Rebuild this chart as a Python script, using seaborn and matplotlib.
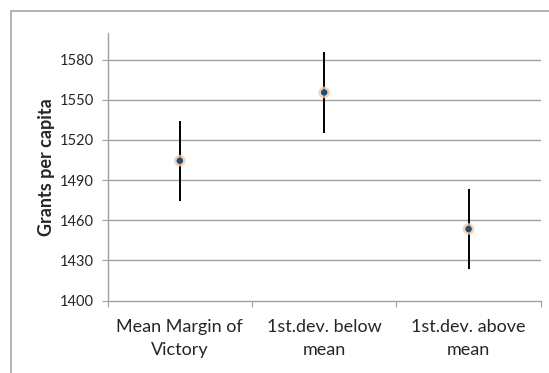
import numpy as np
import pandas as pd
import seaborn as sns
import matplotlib.pyplot as plt
from matplotlib.patches import Rectangle

#Data
groups = ["Mean Margin of\nVictory", "1st.dev. below\nmean", "1st.dev. above\nmean"]
means = [1504.5, 1555.5, 1453.5]
errors = [30.0, 30.0, 29.5]
y_ticks = [1400, 1430, 1460, 1490, 1520, 1550, 1580]

df = pd.DataFrame({"group": groups, "mean": means, "err": errors})
df["pos"] = np.arange(len(groups))

sns.set_style("white")
plt.rcParams['font.family'] = ['Lato', 'DejaVu Sans']

fig = plt.figure(figsize=(5.49, 3.73), dpi=100)
ax = fig.add_axes([0.196, 0.194, 0.789, 0.718])

#Outer chart border
fig.patches.append(Rectangle((0.020, -0.1), 1.2, 1.07, transform=fig.transFigure,
                             fill=False, edgecolor='#a6a6a6', lw=1.2))

#Error bars
ax.errorbar(df["pos"], df["mean"], yerr=df["err"], fmt='none', ecolor='black',
            elinewidth=1.4, capsize=0, zorder=3)

#Glow + marker
sns.scatterplot(data=df, x="pos", y="mean", ax=ax, s=70, color='#f4c9a8',
                edgecolor='none', alpha=0.8, zorder=4, legend=False)
sns.scatterplot(data=df, x="pos", y="mean", ax=ax, s=22, color='#1f4e79',
                edgecolor='none', zorder=5, legend=False)

ax.set_xlim(-0.5, 2.5)
ax.set_ylim(1400, 1600)
ax.set_yticks(y_ticks)
ax.set_yticklabels([str(t) for t in y_ticks], fontsize=10.5)
for t in y_ticks[1:]:
    ax.axhline(t, color='#a0a0a0', lw=1.0, zorder=1)

ax.set_xticks([-0.5, 0.5, 1.5, 2.5])
ax.set_xticklabels([])
ax.set_xticks([0, 1, 2], minor=True)
ax.set_xticklabels(groups, minor=True, fontsize=13, linespacing=1.6)
ax.tick_params(axis='x', which='minor', length=0, pad=13)
ax.tick_params(axis='x', which='major', length=4, color='#a0a0a0', direction='out')
ax.tick_params(axis='y', length=4, color='#a0a0a0', direction='out', pad=6)
ax.tick_params(bottom=True, left=True)

ax.set_xlabel("")
ax.set_ylabel("Grants per capita", fontsize=13, fontweight='bold', labelpad=3)

sns.despine(ax=ax)
for s in ['left', 'bottom']:
    ax.spines[s].set_color('#a0a0a0')
    ax.spines[s].set_linewidth(1.0)

fig.savefig("out.png", dpi=100)
